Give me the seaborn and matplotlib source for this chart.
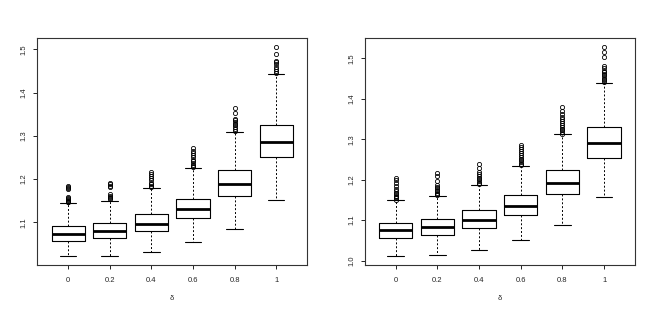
import numpy as np
import seaborn as sns
import matplotlib
matplotlib.use("Agg")
import matplotlib.pyplot as plt

# x categories (delta)
deltas = ["0", "0.2", "0.4", "0.6", "0.8", "1"]

# left panel: box statistics
left_lo_whisk = [1.022, 1.022, 1.031, 1.054, 1.085, 1.152]
left_q1 = [1.058, 1.063, 1.079, 1.109, 1.161, 1.250]
left_med = [1.072, 1.079, 1.097, 1.132, 1.189, 1.286]
left_q3 = [1.092, 1.099, 1.120, 1.155, 1.220, 1.326]
left_hi_whisk = [1.144, 1.150, 1.180, 1.225, 1.309, 1.442]
left_outliers = [
    [1.146, 1.148, 1.150, 1.152, 1.154, 1.156, 1.158, 1.176, 1.179, 1.182, 1.185],
    [1.153, 1.156, 1.159, 1.162, 1.165, 1.181, 1.185, 1.189, 1.192],
    [1.182, 1.185, 1.188, 1.191, 1.199, 1.203, 1.207, 1.212, 1.216],
    [1.227, 1.230, 1.233, 1.237, 1.241, 1.245, 1.250, 1.255, 1.260, 1.266, 1.273],
    [1.312, 1.316, 1.320, 1.324, 1.328, 1.332, 1.336, 1.340, 1.352, 1.365],
    [1.446, 1.450, 1.455, 1.460, 1.465, 1.470, 1.474, 1.490, 1.506],
]

# right panel
right_lo_whisk = [1.011, 1.013, 1.025, 1.051, 1.087, 1.157]
right_q1 = [1.057, 1.064, 1.081, 1.112, 1.164, 1.254]
right_med = [1.075, 1.082, 1.100, 1.135, 1.192, 1.290]
right_q3 = [1.093, 1.102, 1.124, 1.162, 1.223, 1.330]
right_hi_whisk = [1.149, 1.159, 1.187, 1.235, 1.312, 1.439]
right_outliers = [
    [1.151, 1.154, 1.157, 1.160, 1.164, 1.168, 1.172, 1.177, 1.185, 1.193, 1.199, 1.205],
    [1.161, 1.164, 1.167, 1.171, 1.175, 1.179, 1.183, 1.187, 1.198, 1.208, 1.216],
    [1.189, 1.193, 1.197, 1.201, 1.205, 1.209, 1.213, 1.220, 1.228, 1.240],
    [1.237, 1.240, 1.244, 1.248, 1.252, 1.256, 1.260, 1.265, 1.270, 1.276, 1.281, 1.285],
    [1.314, 1.318, 1.322, 1.326, 1.330, 1.335, 1.340, 1.345, 1.350, 1.356, 1.362, 1.370, 1.380],
    [1.442, 1.446, 1.450, 1.454, 1.458, 1.462, 1.466, 1.470, 1.476, 1.482, 1.504, 1.516, 1.529],
]

sns.set_style("ticks")
plt.rcParams["font.family"] = ["Liberation Sans", "DejaVu Sans"]


def draw_panel(ax, lo, q1, med, q3, hi, fliers, yticks):
    stats = []
    for i in range(len(deltas)):
        stats.append(dict(whislo=lo[i], q1=q1[i], med=med[i], q3=q3[i],
                          whishi=hi[i], fliers=fliers[i], label=deltas[i]))
    ax.bxp(stats, positions=range(1, 7), widths=0.8,
           boxprops=dict(color="black", lw=0.8),
           medianprops=dict(color="black", lw=2.0),
           whiskerprops=dict(color="black", lw=0.7, ls=(0, (2, 2))),
           capprops=dict(color="black", lw=0.8),
           capwidths=0.4,
           flierprops=dict(marker="o", markersize=3, markerfacecolor="none",
                           markeredgecolor="black", markeredgewidth=0.6))
    allv = lo + hi + [v for f in fliers for v in f]
    vmin, vmax = min(allv), max(allv)
    pad = 0.04 * (vmax - vmin)
    ax.set_ylim(vmin - pad, vmax + pad)
    ax.set_xlim(0.26, 6.74)
    ax.set_yticks(yticks)
    ax.set_yticklabels([f"{t:.1f}" for t in yticks], rotation=90, va="center")
    ax.set_xticks(range(1, 7))
    ax.set_xticklabels(deltas)
    ax.tick_params(labelsize=5.5, length=3, width=0.6, color="black")
    ax.tick_params(axis="x", pad=6)
    ax.tick_params(axis="y", pad=4)
    for s in ax.spines.values():
        s.set_visible(True)
        s.set_color("#333333")
        s.set_linewidth(0.8)
    ax.set_xlabel("δ", fontsize=5.5, labelpad=8)
    ax.grid(False)


fig = plt.figure(figsize=(6.55, 3.12), dpi=100)
ax1 = fig.add_axes([0.0571, 0.1522, 0.4115, 0.7250])
ax2 = fig.add_axes([0.5568, 0.1522, 0.4127, 0.7250])

draw_panel(ax1, left_lo_whisk, left_q1, left_med, left_q3, left_hi_whisk,
           left_outliers, [1.1, 1.2, 1.3, 1.4, 1.5])
draw_panel(ax2, right_lo_whisk, right_q1, right_med, right_q3, right_hi_whisk,
           right_outliers, [1.0, 1.1, 1.2, 1.3, 1.4, 1.5])

fig.savefig("out.png", dpi=100, facecolor="white")
